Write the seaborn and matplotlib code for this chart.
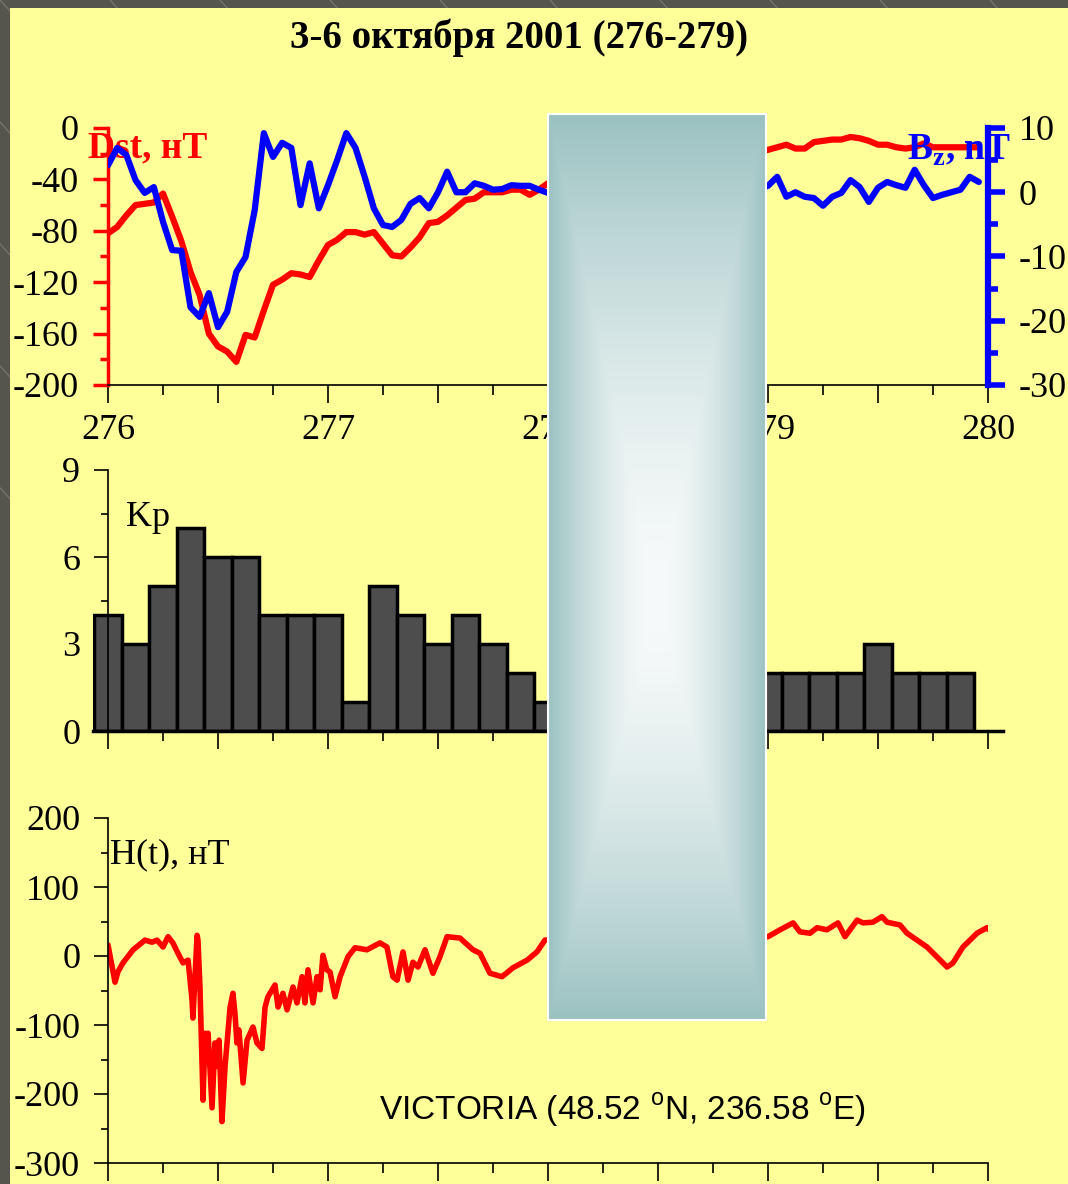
import numpy as np
import matplotlib
matplotlib.use('Agg')
import matplotlib.pyplot as plt
from matplotlib.patches import Rectangle
from matplotlib.lines import Line2D
from matplotlib.ticker import MultipleLocator, FuncFormatter
import seaborn as sns

# Dst and Bz: hourly values starting at day 276.0
hour_start = 276.0
dst = [-82, -77, -68, -60, -59, -58, -51, -69, -88, -112,
       -130, -160, -170, -174, -182, -161, -163, -142, -122, -118,
       -113, -114, -116, -103, -91, -87, -81, -81, -83, -81,
       -90, -99, -100, -93, -85, -74, -73, -68, -62, -56,
       -55, -50, -50, -50, -48, -48, -52, -48, -43,
       -41, -44, -40, -38, -39, -36, -33, -35, -32, -30, -31, -28,
       -27, -29, -26, -24, -25, -22, -21, -23, -20, -19, -18,
       -17, -15, -13, -16, -16, -11, -10, -9, -9, -7, -8, -10,
       -13, -13, -15, -16, -15, -12, -15, -15, -15, -15, -15, -15]
bz = [4.2, 6.9, 5.8, 1.9, -0.1, 0.8, -4.6, -9.0, -9.1, -17.9,
      -19.4, -15.7, -21.0, -18.6, -12.4, -10.1, -2.8, 9.2, 5.5, 7.7,
      6.9, -2.0, 4.5, -2.5, 1.1, 5.0, 9.2, 6.9, 2.4, -2.5,
      -5.1, -5.4, -4.3, -1.8, -0.9, -2.5, 0.0, 3.2, 0.0, 0.0,
      1.4, 1.0, 0.4, 0.5, 1.1, 1.0, 1.0, 0.4, -0.1,
      0.5, 1.2, -0.3, 0.8, 1.5, 0.2, -0.6, 0.9, 1.8, 0.4, -0.2, 1.1,
      2.0, 0.6, -0.5, 0.3, 1.4, 0.9, -0.1, 0.7, 1.6, 0.2, 0.5,
      1.0, 2.4, -0.7, 0.0, -0.7, -0.9, -2.1, -0.7, -0.1, 1.9, 0.8, -1.5,
      0.7, 1.6, 1.1, 0.7, 3.5, 1.1, -0.9, -0.4, 0.0, 0.4, 2.4, 1.6]

# Kp: 3-hour bins starting at day 276.0
kp_start = 276.0
kp = [4, 3, 5, 7, 6, 6, 4, 4, 4, 1, 5, 4, 3, 4, 3, 2,
      1, 1, 1, 2, 2, 1, 2, 2, 2, 2, 2, 2, 3, 2, 2, 2]

# H(t) at Victoria
h_day = [276.000, 276.032, 276.045, 276.068, 276.114, 276.168, 276.200, 276.223, 276.250, 276.273,
         276.295, 276.318, 276.341, 276.364, 276.382, 276.386, 276.405, 276.409, 276.418, 276.432,
         276.441, 276.450, 276.455, 276.473, 276.486, 276.495, 276.505, 276.518, 276.532, 276.555,
         276.568, 276.577, 276.586, 276.595, 276.614, 276.632, 276.659, 276.677, 276.700, 276.714,
         276.727, 276.759, 276.773, 276.795, 276.814, 276.841, 276.859, 276.882, 276.895, 276.909,
         276.932, 276.950, 276.964, 276.977, 276.995, 277.009, 277.032, 277.055, 277.091, 277.123,
         277.177, 277.236, 277.268, 277.295, 277.314, 277.341, 277.364, 277.386, 277.409, 277.441,
         277.477, 277.509, 277.541, 277.600, 277.659, 277.691, 277.736, 277.791, 277.841, 277.905,
         277.950, 277.986, 278.100, 278.250, 278.420, 278.600, 278.780, 278.920, 279.000, 279.055,
         279.114, 279.145, 279.191, 279.223, 279.268, 279.318, 279.350, 279.405, 279.432, 279.477,
         279.518, 279.541, 279.600, 279.632, 279.723, 279.814, 279.841, 279.886, 279.950, 279.995, 280.005]
h_val = [16, -38, -23, -10, 9, 23, 20, 23, 13, 28,
         19, 4, -10, -6, -64, -90, 30, 23, -45, -209,
         -112, -151, -112, -220, -126, -160, -122, -240, -160, -74,
         -54, -83, -126, -107, -184, -122, -103, -126, -134, -74,
         -59, -42, -74, -54, -78, -45, -68, -30, -68, -20,
         -68, -30, -49, 1, -20, -23, -59, -30, -1, 12,
         9, 19, 13, -30, -35, 6, -35, -9, -16, 9,
         -25, -1, 28, 26, 9, 4, -25, -30, -17, -6,
         6, 23, 26, 30, 24, 31, 27, 25, 28, 38,
         48, 35, 33, 41, 38, 48, 28, 52, 48, 49,
         57, 49, 45, 33, 13, -16, -10, 13, 33, 41, 38]

title = '3-6 октября 2001 (276-279)'
station = r'VICTORIA (48.52 $^{\mathsf{o}}$N, 236.58 $^{\mathsf{o}}$E)'

sns.set_theme(style='ticks')
plt.rcParams['font.family'] = ['Liberation Serif', 'DejaVu Serif']
plt.rcParams['text.color'] = 'black'
plt.rcParams['xtick.color'] = 'black'
plt.rcParams['ytick.color'] = 'black'
plt.rcParams['xtick.labelcolor'] = 'black'
plt.rcParams['ytick.labelcolor'] = 'black'
plt.rcParams['axes.unicode_minus'] = False
plt.rcParams['mathtext.fontset'] = 'custom'
plt.rcParams['mathtext.rm'] = 'Liberation Serif'
plt.rcParams['mathtext.bf'] = 'Liberation Serif:bold'
plt.rcParams['mathtext.sf'] = 'Liberation Sans'

W, H = 1068, 1184
fig = plt.figure(figsize=(W / 100, H / 100), dpi=100, facecolor='#55554d')


def box(x0, y0, x1, y1):
    # pixel box (from top-left) -> figure fraction rect
    return [x0 / W, 1 - y1 / H, (x1 - x0) / W, (y1 - y0) / H]


# slide background: faint diagonal streaks + yellow panel
for k in range(-6, 14):
    x0 = k * 110 / W
    fig.add_artist(Line2D([x0, x0 + 0.45], [1.0, 0.55], transform=fig.transFigure,
                          color='#7a7a70', lw=0.8, zorder=-20))
fig.add_artist(Rectangle((10 / W, 0), 1 - 10 / W, 1 - 8 / H, transform=fig.transFigure,
                         facecolor='#ffff99', edgecolor='none', zorder=-10))

half_day = FuncFormatter(lambda v, _: f'{v:.0f}' if abs(v - round(v)) < 1e-6 else '')

# ---- top panel: Dst and Bz ----
ax1 = fig.add_axes(box(108, 128, 988, 385))
ax1.set_facecolor('none')
t_hour = hour_start + np.arange(len(dst)) / 24
sns.lineplot(x=t_hour, y=dst, ax=ax1, color='red', linewidth=4.5)
ax1.set_ylim(-200, 0)
ax1.spines['top'].set_visible(False)
ax1.spines['right'].set_visible(False)
ax1.spines['left'].set_color('red')
ax1.spines['left'].set_linewidth(2.5)
ax1.spines['bottom'].set_linewidth(1.2)
ax1.spines['bottom'].set_color('black')
ax1.yaxis.set_major_locator(MultipleLocator(40))
ax1.yaxis.set_minor_locator(MultipleLocator(20))
ax1.tick_params(axis='y', which='both', direction='out', color='red', width=2.5,
                labelsize=26, pad=10, labelcolor='black')
ax1.tick_params(axis='y', which='major', length=11)
ax1.tick_params(axis='y', which='minor', length=6)
ax1.xaxis.set_major_locator(MultipleLocator(0.5))
ax1.xaxis.set_minor_locator(MultipleLocator(0.25))
ax1.xaxis.set_major_formatter(half_day)
ax1.tick_params(axis='x', which='both', direction='out', color='black', width=1.2,
                labelsize=26, pad=8, labelcolor='black')
ax1.tick_params(axis='x', which='major', length=13)
ax1.tick_params(axis='x', which='minor', length=7)
ax1.set_xlabel('')
ax1.set_ylabel('')
ax1.text(88 / W, 1 - 148 / H, 'Dst, нТ', transform=fig.transFigure, color='red',
         fontsize=27, fontweight='bold', va='center', ha='left')

ax1b = ax1.twinx()
sns.lineplot(x=t_hour, y=bz, ax=ax1b, color='blue', linewidth=4.5)
ax1b.set_ylim(-30, 10)
for s in ['top', 'left', 'bottom']:
    ax1b.spines[s].set_visible(False)
ax1b.spines['right'].set_color('blue')
ax1b.spines['right'].set_linewidth(4.5)
ax1b.yaxis.set_major_locator(MultipleLocator(10))
ax1b.yaxis.set_minor_locator(MultipleLocator(5))
ax1b.tick_params(axis='y', which='both', direction='out', color='blue', width=4,
                 labelsize=26, pad=10, labelcolor='black')
ax1b.tick_params(axis='y', which='major', length=12)
ax1b.tick_params(axis='y', which='minor', length=7)
ax1b.set_ylabel('')
ax1.set_xlim(276, 280)

fig.text(907 / W, 1 - 150 / H, r'B$_\mathbf{z}$, nT', color='blue', fontsize=27,
         fontweight='bold', va='center', ha='left')
fig.text(519 / W, 1 - 38 / H, title, fontsize=28, fontweight='bold', color='black',
         ha='center', va='center')

# ---- Kp panel ----
ax2 = fig.add_axes(box(108 - 0.07 * 220, 470, 108 + 4.07 * 220, 731))
ax2.set_facecolor('none')
kp_time = kp_start + np.arange(len(kp)) * 0.125
sns.barplot(x=kp_time, y=kp, native_scale=True, width=1, color='#4d4d4d', saturation=1,
            edgecolor='black', linewidth=2.5, errorbar=None, ax=ax2)
ax2.set_xlim(275.93, 280.07)
ax2.set_ylim(0, 9)
ax2.spines['top'].set_visible(False)
ax2.spines['right'].set_visible(False)
ax2.spines['left'].set_position(('data', 276))
ax2.spines['left'].set_linewidth(1.2)
ax2.spines['left'].set_color('black')
ax2.spines['bottom'].set_linewidth(2.5)
ax2.spines['bottom'].set_color('black')
ax2.yaxis.set_major_locator(MultipleLocator(3))
ax2.yaxis.set_minor_locator(MultipleLocator(1.5))
ax2.tick_params(axis='y', which='both', direction='out', color='black', width=1.2,
                labelsize=26, pad=10, labelcolor='black')
ax2.tick_params(axis='y', which='major', length=10)
ax2.tick_params(axis='y', which='minor', length=5)
ax2.xaxis.set_major_locator(MultipleLocator(0.5))
ax2.xaxis.set_minor_locator(MultipleLocator(0.25))
ax2.tick_params(axis='x', which='both', direction='out', color='black', width=1.2,
                labelbottom=False)
ax2.tick_params(axis='x', which='major', length=13)
ax2.tick_params(axis='x', which='minor', length=7)
ax2.set_xlabel('')
ax2.set_ylabel('')
fig.text(126 / W, 1 - 518 / H, 'Kp', fontsize=26, color='black', ha='left', va='center')

# ---- H(t) panel ----
ax3 = fig.add_axes(box(108, 818, 988, 1163))
ax3.set_facecolor('none')
sns.lineplot(x=h_day, y=h_val, ax=ax3, color='red', linewidth=4)
ax3.set_xlim(276, 280)
ax3.set_ylim(-300, 200)
ax3.spines['top'].set_visible(False)
ax3.spines['right'].set_visible(False)
for s in ['left', 'bottom']:
    ax3.spines[s].set_linewidth(1.2)
    ax3.spines[s].set_color('black')
ax3.yaxis.set_major_locator(MultipleLocator(100))
ax3.yaxis.set_minor_locator(MultipleLocator(50))
ax3.tick_params(axis='y', which='both', direction='out', color='black', width=1.2,
                labelsize=26, pad=10, labelcolor='black')
ax3.tick_params(axis='y', which='major', length=10)
ax3.tick_params(axis='y', which='minor', length=5)
ax3.xaxis.set_major_locator(MultipleLocator(0.5))
ax3.xaxis.set_minor_locator(MultipleLocator(0.25))
ax3.tick_params(axis='x', which='both', direction='out', color='black', width=1.2,
                labelbottom=False)
ax3.tick_params(axis='x', which='major', length=13)
ax3.tick_params(axis='x', which='minor', length=7)
ax3.set_xlabel('')
ax3.set_ylabel('')
fig.text(110 / W, 1 - 855 / H, 'H(t), нТ', fontsize=26, color='black', ha='left', va='center')
fig.text(622 / W, 1 - 1110 / H, station, fontsize=24, family='Liberation Sans', color='black',
         ha='center', va='center')

# ---- gradient overlay block ----
axo = fig.add_axes(box(548, 114, 766, 1020))
axo.set_zorder(5)
axo.set_axis_off()
ny, nx = 906, 218
yy, xx = np.mgrid[0:ny, 0:nx]
cy = 486
u = np.abs(xx - (nx - 1) / 2) / (nx / 2)
v = np.where(yy < cy, (cy - yy) / cy, (yy - cy) / (ny - cy))
tt = np.clip(np.maximum(u, v), 0, 1) ** 1.6
edge = np.array([155, 193, 193]) / 255
centre = np.array([247, 250, 250]) / 255
img = centre + (edge - centre) * tt[..., None]
axo.imshow(img, aspect='auto', extent=(0, 1, 0, 1), interpolation='bilinear')
axo.add_patch(Rectangle((0, 0), 1, 1, transform=axo.transAxes, fill=False,
                        edgecolor='white', lw=1.5, clip_on=False))

fig.savefig('out.png', dpi=100, facecolor=fig.get_facecolor())
